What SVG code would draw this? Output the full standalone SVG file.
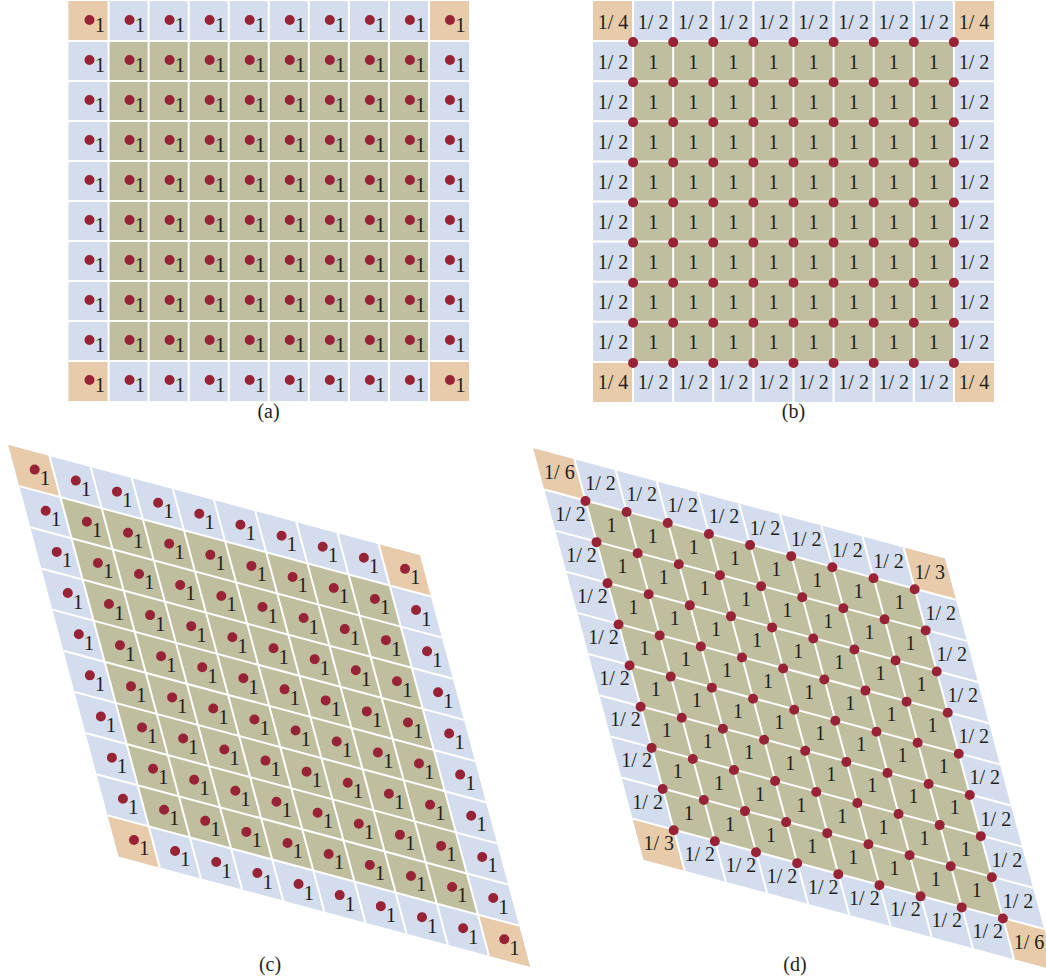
<svg xmlns="http://www.w3.org/2000/svg" width="1046" height="977" viewBox="0 0 1046 977">
<style>
.t{font-family:"Liberation Serif","Times New Roman",serif;font-size:20px;fill:#231F20;text-anchor:middle}
.t1{font-size:21px}
.d{stroke:#982236;stroke-width:10;stroke-linecap:round;fill:none}
.dq{stroke-dasharray:0 40.05}
.db{stroke-dasharray:0 40.1}
.dr{stroke-dasharray:0 42.6}
.g{stroke:#fff;stroke-width:2;fill:none}
.bl{fill:#D4DDED}.ol{fill:#BFBE9E}.pe{fill:#E7CBAA}
</style>
<rect width="1046" height="977" fill="#fff"/>

<g id="panel-a">
<rect class="bl" x="68.5" y="1" width="400.5" height="400"/>
<rect class="ol" x="108.55" y="41" width="320.4" height="320"/>
<rect class="pe" x="68.5" y="1" width="40.05" height="40"/>
<rect class="pe" x="428.95" y="1" width="40.05" height="40"/>
<rect class="pe" x="68.5" y="361" width="40.05" height="40"/>
<rect class="pe" x="428.95" y="361" width="40.05" height="40"/>
<path class="g" d="M108.55 1V401M148.6 1V401M188.65 1V401M228.7 1V401M268.75 1V401M308.8 1V401M348.85 1V401M388.9 1V401M428.95 1V401M68.5 41H469M68.5 81H469M68.5 121H469M68.5 161H469M68.5 201H469M68.5 241H469M68.5 281H469M68.5 321H469M68.5 361H469"/>
<g id="dots-a">
<line class="d dq" x1="89.5" y1="20" x2="452" y2="20"/>
<line class="d dq" x1="89.5" y1="60" x2="452" y2="60"/>
<line class="d dq" x1="89.5" y1="100" x2="452" y2="100"/>
<line class="d dq" x1="89.5" y1="140" x2="452" y2="140"/>
<line class="d dq" x1="89.5" y1="180" x2="452" y2="180"/>
<line class="d dq" x1="89.5" y1="220" x2="452" y2="220"/>
<line class="d dq" x1="89.5" y1="260" x2="452" y2="260"/>
<line class="d dq" x1="89.5" y1="300" x2="452" y2="300"/>
<line class="d dq" x1="89.5" y1="340" x2="452" y2="340"/>
<line class="d dq" x1="89.5" y1="380" x2="452" y2="380"/>
</g>
<g id="labels-a" class="t t1">
<text x="100 140.05 180.1 220.15 260.2 300.25 340.3 380.35 420.4 460.45" y="32">1111111111</text>
<text x="100 140.05 180.1 220.15 260.2 300.25 340.3 380.35 420.4 460.45" y="72">1111111111</text>
<text x="100 140.05 180.1 220.15 260.2 300.25 340.3 380.35 420.4 460.45" y="112">1111111111</text>
<text x="100 140.05 180.1 220.15 260.2 300.25 340.3 380.35 420.4 460.45" y="152">1111111111</text>
<text x="100 140.05 180.1 220.15 260.2 300.25 340.3 380.35 420.4 460.45" y="192">1111111111</text>
<text x="100 140.05 180.1 220.15 260.2 300.25 340.3 380.35 420.4 460.45" y="232">1111111111</text>
<text x="100 140.05 180.1 220.15 260.2 300.25 340.3 380.35 420.4 460.45" y="272">1111111111</text>
<text x="100 140.05 180.1 220.15 260.2 300.25 340.3 380.35 420.4 460.45" y="312">1111111111</text>
<text x="100 140.05 180.1 220.15 260.2 300.25 340.3 380.35 420.4 460.45" y="352">1111111111</text>
<text x="100 140.05 180.1 220.15 260.2 300.25 340.3 380.35 420.4 460.45" y="392">1111111111</text>
</g>
<text class="t" x="268.5" y="418">(a)</text>
</g>

<g id="panel-b">
<rect class="bl" x="593" y="1" width="401" height="401"/>
<rect class="ol" x="633.1" y="41.1" width="320.8" height="320.8"/>
<rect class="pe" x="593" y="1" width="40.1" height="40.1"/>
<rect class="pe" x="953.9" y="1" width="40.1" height="40.1"/>
<rect class="pe" x="593" y="361.9" width="40.1" height="40.1"/>
<rect class="pe" x="953.9" y="361.9" width="40.1" height="40.1"/>
<path class="g" d="M633.1 1V402M673.2 1V402M713.3 1V402M753.4 1V402M793.5 1V402M833.6 1V402M873.7 1V402M913.8 1V402M953.9 1V402M593 41.1H994M593 81.2H994M593 121.3H994M593 161.4H994M593 201.5H994M593 241.6H994M593 281.7H994M593 321.8H994M593 361.9H994"/>
<g id="dots-b">
<line class="d db" x1="633.1" y1="42.1" x2="956" y2="42.1"/>
<line class="d db" x1="633.1" y1="82.2" x2="956" y2="82.2"/>
<line class="d db" x1="633.1" y1="122.3" x2="956" y2="122.3"/>
<line class="d db" x1="633.1" y1="162.4" x2="956" y2="162.4"/>
<line class="d db" x1="633.1" y1="202.5" x2="956" y2="202.5"/>
<line class="d db" x1="633.1" y1="242.6" x2="956" y2="242.6"/>
<line class="d db" x1="633.1" y1="282.7" x2="956" y2="282.7"/>
<line class="d db" x1="633.1" y1="322.8" x2="956" y2="322.8"/>
<line class="d db" x1="633.1" y1="362.9" x2="956" y2="362.9"/>
</g>
<g id="labels-b" class="t">
<text x="613.05" y="28.5">1/ 4</text><text x="653.15" y="28.5">1/ 2</text><text x="693.25" y="28.5">1/ 2</text><text x="733.35" y="28.5">1/ 2</text><text x="773.45" y="28.5">1/ 2</text><text x="813.55" y="28.5">1/ 2</text><text x="853.65" y="28.5">1/ 2</text><text x="893.75" y="28.5">1/ 2</text><text x="933.85" y="28.5">1/ 2</text><text x="973.95" y="28.5">1/ 4</text>
<text x="613.05" y="68.6">1/ 2</text><text x="653.15 693.25 733.35 773.45 813.55 853.65 893.75 933.85" y="68.6">11111111</text><text x="973.95" y="68.6">1/ 2</text>
<text x="613.05" y="108.7">1/ 2</text><text x="653.15 693.25 733.35 773.45 813.55 853.65 893.75 933.85" y="108.7">11111111</text><text x="973.95" y="108.7">1/ 2</text>
<text x="613.05" y="148.8">1/ 2</text><text x="653.15 693.25 733.35 773.45 813.55 853.65 893.75 933.85" y="148.8">11111111</text><text x="973.95" y="148.8">1/ 2</text>
<text x="613.05" y="188.9">1/ 2</text><text x="653.15 693.25 733.35 773.45 813.55 853.65 893.75 933.85" y="188.9">11111111</text><text x="973.95" y="188.9">1/ 2</text>
<text x="613.05" y="229">1/ 2</text><text x="653.15 693.25 733.35 773.45 813.55 853.65 893.75 933.85" y="229">11111111</text><text x="973.95" y="229">1/ 2</text>
<text x="613.05" y="269.1">1/ 2</text><text x="653.15 693.25 733.35 773.45 813.55 853.65 893.75 933.85" y="269.1">11111111</text><text x="973.95" y="269.1">1/ 2</text>
<text x="613.05" y="309.2">1/ 2</text><text x="653.15 693.25 733.35 773.45 813.55 853.65 893.75 933.85" y="309.2">11111111</text><text x="973.95" y="309.2">1/ 2</text>
<text x="613.05" y="349.3">1/ 2</text><text x="653.15 693.25 733.35 773.45 813.55 853.65 893.75 933.85" y="349.3">11111111</text><text x="973.95" y="349.3">1/ 2</text>
<text x="613.05" y="389.4">1/ 4</text><text x="653.15" y="389.4">1/ 2</text><text x="693.25" y="389.4">1/ 2</text><text x="733.35" y="389.4">1/ 2</text><text x="773.45" y="389.4">1/ 2</text><text x="813.55" y="389.4">1/ 2</text><text x="853.65" y="389.4">1/ 2</text><text x="893.75" y="389.4">1/ 2</text><text x="933.85" y="389.4">1/ 2</text><text x="973.95" y="389.4">1/ 4</text>
</g>
<text class="t" x="793.5" y="418">(b)</text>
</g>

<g id="panel-c">
<g transform="matrix(41.15 11.03 11.03 41.15 8.3 445)">
<rect class="bl" width="10" height="10"/>
<rect class="ol" x="1" y="1" width="8" height="8"/>
<rect class="pe" width="1" height="1"/>
<rect class="pe" x="9" width="1" height="1"/>
<rect class="pe" y="9" width="1" height="1"/>
<rect class="pe" x="9" y="9" width="1" height="1"/>
<path class="g" vector-effect="non-scaling-stroke" d="M1 0V10M2 0V10M3 0V10M4 0V10M5 0V10M6 0V10M7 0V10M8 0V10M9 0V10M0 1H10M0 2H10M0 3H10M0 4H10M0 5H10M0 6H10M0 7H10M0 8H10M0 9H10"/>
</g>
<g id="rows-c" class="t t1">
<g transform="translate(34.39 471.09)"><line class="d dr" x1="0.3" y1="-1.5" x2="374.8" y2="98.9"/><text x="10.5" y="14">1</text><text x="51.7" y="25">1</text><text x="92.8" y="36.1">1</text><text x="134" y="47.1">1</text><text x="175.1" y="58.1">1</text><text x="216.3" y="69.2">1</text><text x="257.4" y="80.2">1</text><text x="298.6" y="91.2">1</text><text x="339.7" y="102.2">1</text><text x="380.9" y="113.3">1</text></g>
<g transform="translate(45.42 512.24)"><line class="d dr" x1="0.3" y1="-1.5" x2="374.8" y2="98.9"/><text x="10.5" y="14">1</text><text x="51.7" y="25">1</text><text x="92.8" y="36.1">1</text><text x="134" y="47.1">1</text><text x="175.1" y="58.1">1</text><text x="216.3" y="69.2">1</text><text x="257.4" y="80.2">1</text><text x="298.6" y="91.2">1</text><text x="339.7" y="102.2">1</text><text x="380.9" y="113.3">1</text></g>
<g transform="translate(56.45 553.39)"><line class="d dr" x1="0.3" y1="-1.5" x2="374.8" y2="98.9"/><text x="10.5" y="14">1</text><text x="51.7" y="25">1</text><text x="92.8" y="36.1">1</text><text x="134" y="47.1">1</text><text x="175.1" y="58.1">1</text><text x="216.3" y="69.2">1</text><text x="257.4" y="80.2">1</text><text x="298.6" y="91.2">1</text><text x="339.7" y="102.2">1</text><text x="380.9" y="113.3">1</text></g>
<g transform="translate(67.48 594.54)"><line class="d dr" x1="0.3" y1="-1.5" x2="374.8" y2="98.9"/><text x="10.5" y="14">1</text><text x="51.7" y="25">1</text><text x="92.8" y="36.1">1</text><text x="134" y="47.1">1</text><text x="175.1" y="58.1">1</text><text x="216.3" y="69.2">1</text><text x="257.4" y="80.2">1</text><text x="298.6" y="91.2">1</text><text x="339.7" y="102.2">1</text><text x="380.9" y="113.3">1</text></g>
<g transform="translate(78.51 635.69)"><line class="d dr" x1="0.3" y1="-1.5" x2="374.8" y2="98.9"/><text x="10.5" y="14">1</text><text x="51.7" y="25">1</text><text x="92.8" y="36.1">1</text><text x="134" y="47.1">1</text><text x="175.1" y="58.1">1</text><text x="216.3" y="69.2">1</text><text x="257.4" y="80.2">1</text><text x="298.6" y="91.2">1</text><text x="339.7" y="102.2">1</text><text x="380.9" y="113.3">1</text></g>
<g transform="translate(89.54 676.84)"><line class="d dr" x1="0.3" y1="-1.5" x2="374.8" y2="98.9"/><text x="10.5" y="14">1</text><text x="51.7" y="25">1</text><text x="92.8" y="36.1">1</text><text x="134" y="47.1">1</text><text x="175.1" y="58.1">1</text><text x="216.3" y="69.2">1</text><text x="257.4" y="80.2">1</text><text x="298.6" y="91.2">1</text><text x="339.7" y="102.2">1</text><text x="380.9" y="113.3">1</text></g>
<g transform="translate(100.57 717.99)"><line class="d dr" x1="0.3" y1="-1.5" x2="374.8" y2="98.9"/><text x="10.5" y="14">1</text><text x="51.7" y="25">1</text><text x="92.8" y="36.1">1</text><text x="134" y="47.1">1</text><text x="175.1" y="58.1">1</text><text x="216.3" y="69.2">1</text><text x="257.4" y="80.2">1</text><text x="298.6" y="91.2">1</text><text x="339.7" y="102.2">1</text><text x="380.9" y="113.3">1</text></g>
<g transform="translate(111.6 759.14)"><line class="d dr" x1="0.3" y1="-1.5" x2="374.8" y2="98.9"/><text x="10.5" y="14">1</text><text x="51.7" y="25">1</text><text x="92.8" y="36.1">1</text><text x="134" y="47.1">1</text><text x="175.1" y="58.1">1</text><text x="216.3" y="69.2">1</text><text x="257.4" y="80.2">1</text><text x="298.6" y="91.2">1</text><text x="339.7" y="102.2">1</text><text x="380.9" y="113.3">1</text></g>
<g transform="translate(122.63 800.29)"><line class="d dr" x1="0.3" y1="-1.5" x2="374.8" y2="98.9"/><text x="10.5" y="14">1</text><text x="51.7" y="25">1</text><text x="92.8" y="36.1">1</text><text x="134" y="47.1">1</text><text x="175.1" y="58.1">1</text><text x="216.3" y="69.2">1</text><text x="257.4" y="80.2">1</text><text x="298.6" y="91.2">1</text><text x="339.7" y="102.2">1</text><text x="380.9" y="113.3">1</text></g>
<g transform="translate(133.66 841.44)"><line class="d dr" x1="0.3" y1="-1.5" x2="374.8" y2="98.9"/><text x="10.5" y="14">1</text><text x="51.7" y="25">1</text><text x="92.8" y="36.1">1</text><text x="134" y="47.1">1</text><text x="175.1" y="58.1">1</text><text x="216.3" y="69.2">1</text><text x="257.4" y="80.2">1</text><text x="298.6" y="91.2">1</text><text x="339.7" y="102.2">1</text><text x="380.9" y="113.3">1</text></g>
</g>
<text class="t" x="270" y="971">(c)</text>
</g>

<g id="panel-d">
<g transform="matrix(41.15 11.03 11.03 41.15 533.3 448.3)">
<rect class="bl" width="10" height="10"/>
<rect class="ol" x="1" y="1" width="8" height="8"/>
<rect class="pe" width="1" height="1"/>
<rect class="pe" x="9" width="1" height="1"/>
<rect class="pe" y="9" width="1" height="1"/>
<rect class="pe" x="9" y="9" width="1" height="1"/>
<path class="g" vector-effect="non-scaling-stroke" d="M1 0V10M2 0V10M3 0V10M4 0V10M5 0V10M6 0V10M7 0V10M8 0V10M9 0V10M0 1H10M0 2H10M0 3H10M0 4H10M0 5H10M0 6H10M0 7H10M0 8H10M0 9H10"/>
</g>
<g id="rows-d" class="t">
<g transform="translate(533.3 448.3)">
<text x="26.1" y="31.1">1/ 6</text><text x="67.2" y="42.1">1/ 2</text><text x="108.4" y="53.2">1/ 2</text><text x="149.5" y="64.2">1/ 2</text><text x="190.7" y="75.2">1/ 2</text><text x="231.8" y="86.3">1/ 2</text><text x="272.9" y="97.3">1/ 2</text><text x="314.1" y="108.3">1/ 2</text><text x="355.2" y="119.3">1/ 2</text><text x="396.4" y="130.4">1/ 3</text>
</g>
<g transform="translate(544.33 489.45)"><line class="d dr" x1="41.15" y1="11.53" x2="374.5" y2="100.9"/><text x="26.1" y="31.1">1/ 2</text><text x="67.2" y="42.1">1</text><text x="108.4" y="53.2">1</text><text x="149.5" y="64.2">1</text><text x="190.7" y="75.2">1</text><text x="231.8" y="86.3">1</text><text x="272.9" y="97.3">1</text><text x="314.1" y="108.3">1</text><text x="355.2" y="119.3">1</text><text x="396.4" y="130.4">1/ 2</text></g>
<g transform="translate(555.36 530.6)"><line class="d dr" x1="41.15" y1="11.53" x2="374.5" y2="100.9"/><text x="26.1" y="31.1">1/ 2</text><text x="67.2" y="42.1">1</text><text x="108.4" y="53.2">1</text><text x="149.5" y="64.2">1</text><text x="190.7" y="75.2">1</text><text x="231.8" y="86.3">1</text><text x="272.9" y="97.3">1</text><text x="314.1" y="108.3">1</text><text x="355.2" y="119.3">1</text><text x="396.4" y="130.4">1/ 2</text></g>
<g transform="translate(566.39 571.75)"><line class="d dr" x1="41.15" y1="11.53" x2="374.5" y2="100.9"/><text x="26.1" y="31.1">1/ 2</text><text x="67.2" y="42.1">1</text><text x="108.4" y="53.2">1</text><text x="149.5" y="64.2">1</text><text x="190.7" y="75.2">1</text><text x="231.8" y="86.3">1</text><text x="272.9" y="97.3">1</text><text x="314.1" y="108.3">1</text><text x="355.2" y="119.3">1</text><text x="396.4" y="130.4">1/ 2</text></g>
<g transform="translate(577.42 612.9)"><line class="d dr" x1="41.15" y1="11.53" x2="374.5" y2="100.9"/><text x="26.1" y="31.1">1/ 2</text><text x="67.2" y="42.1">1</text><text x="108.4" y="53.2">1</text><text x="149.5" y="64.2">1</text><text x="190.7" y="75.2">1</text><text x="231.8" y="86.3">1</text><text x="272.9" y="97.3">1</text><text x="314.1" y="108.3">1</text><text x="355.2" y="119.3">1</text><text x="396.4" y="130.4">1/ 2</text></g>
<g transform="translate(588.45 654.05)"><line class="d dr" x1="41.15" y1="11.53" x2="374.5" y2="100.9"/><text x="26.1" y="31.1">1/ 2</text><text x="67.2" y="42.1">1</text><text x="108.4" y="53.2">1</text><text x="149.5" y="64.2">1</text><text x="190.7" y="75.2">1</text><text x="231.8" y="86.3">1</text><text x="272.9" y="97.3">1</text><text x="314.1" y="108.3">1</text><text x="355.2" y="119.3">1</text><text x="396.4" y="130.4">1/ 2</text></g>
<g transform="translate(599.48 695.2)"><line class="d dr" x1="41.15" y1="11.53" x2="374.5" y2="100.9"/><text x="26.1" y="31.1">1/ 2</text><text x="67.2" y="42.1">1</text><text x="108.4" y="53.2">1</text><text x="149.5" y="64.2">1</text><text x="190.7" y="75.2">1</text><text x="231.8" y="86.3">1</text><text x="272.9" y="97.3">1</text><text x="314.1" y="108.3">1</text><text x="355.2" y="119.3">1</text><text x="396.4" y="130.4">1/ 2</text></g>
<g transform="translate(610.51 736.35)"><line class="d dr" x1="41.15" y1="11.53" x2="374.5" y2="100.9"/><text x="26.1" y="31.1">1/ 2</text><text x="67.2" y="42.1">1</text><text x="108.4" y="53.2">1</text><text x="149.5" y="64.2">1</text><text x="190.7" y="75.2">1</text><text x="231.8" y="86.3">1</text><text x="272.9" y="97.3">1</text><text x="314.1" y="108.3">1</text><text x="355.2" y="119.3">1</text><text x="396.4" y="130.4">1/ 2</text></g>
<g transform="translate(621.54 777.5)"><line class="d dr" x1="41.15" y1="11.53" x2="374.5" y2="100.9"/><text x="26.1" y="31.1">1/ 2</text><text x="67.2" y="42.1">1</text><text x="108.4" y="53.2">1</text><text x="149.5" y="64.2">1</text><text x="190.7" y="75.2">1</text><text x="231.8" y="86.3">1</text><text x="272.9" y="97.3">1</text><text x="314.1" y="108.3">1</text><text x="355.2" y="119.3">1</text><text x="396.4" y="130.4">1/ 2</text></g>
<g transform="translate(632.57 818.65)"><line class="d dr" x1="41.15" y1="11.53" x2="374.5" y2="100.9"/>
<text x="26.1" y="31.1">1/ 3</text><text x="67.2" y="42.1">1/ 2</text><text x="108.4" y="53.2">1/ 2</text><text x="149.5" y="64.2">1/ 2</text><text x="190.7" y="75.2">1/ 2</text><text x="231.8" y="86.3">1/ 2</text><text x="272.9" y="97.3">1/ 2</text><text x="314.1" y="108.3">1/ 2</text><text x="355.2" y="119.3">1/ 2</text><text x="396.4" y="130.4">1/ 6</text>
</g>
</g>
<text class="t" x="795" y="971">(d)</text>
</g>
</svg>
